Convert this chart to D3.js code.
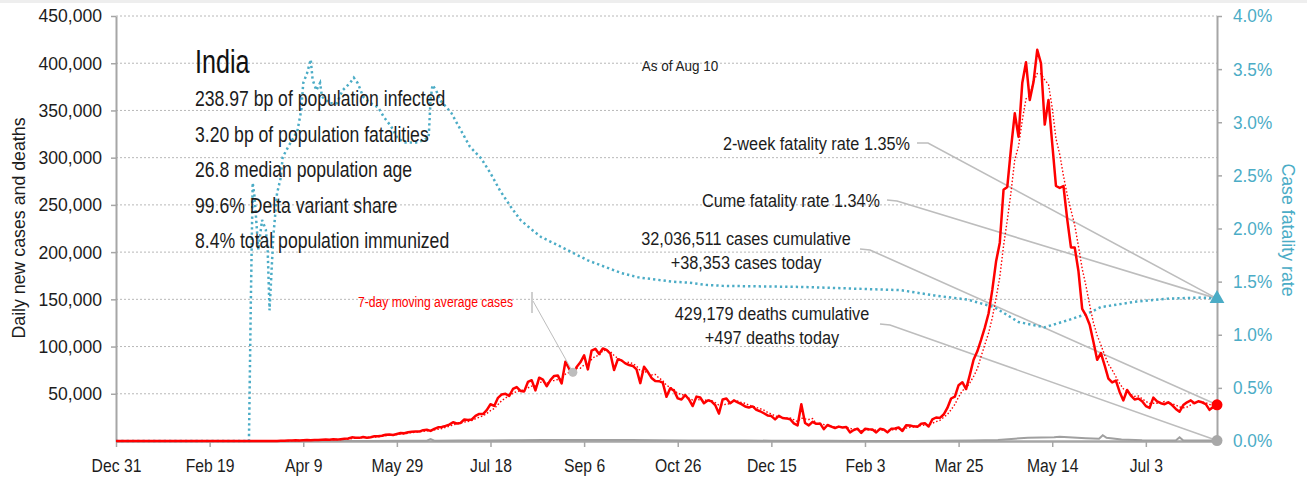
<!DOCTYPE html>
<html>
<head>
<meta charset="utf-8">
<script src="https://cdn.jsdelivr.net/npm/d3@7"></script>
<style>
  body { margin: 0; background: #fff; }
  svg { display: block; font-family: "Liberation Sans", Arial, sans-serif; }
</style>
</head>
<body>
<svg id="chart" width="1307" height="482"></svg>
<script>
// ---------- data ----------
const xStart = "2019-12-31";
const xEnd = "2021-08-10";
const xTickDates = ["2019-12-31", "2020-02-19", "2020-04-09", "2020-05-29", "2020-07-18", "2020-09-06",
                    "2020-10-26", "2020-12-15", "2021-02-03", "2021-03-25", "2021-05-14", "2021-07-03"];
const caseTicks = [50000, 100000, 150000, 200000, 250000, 300000, 350000, 400000, 450000];
const cfrTicks = [0, 0.005, 0.01, 0.015, 0.02, 0.025, 0.03, 0.035, 0.04];

// daily new cases, one value every second day from caseStart
const caseStart = "2019-12-31";
const caseStepDays = 2;
const dailyCases = [
  0, 0, 0, 0, 0, 0, 0, 0, 0, 0, 0, 0, 0, 0, 0, 1, 0, 1, 0, 0, 0, 0, 0, 0, 0, 0, 0, 0, 0, 0, 0,
  1, 22, 2, 5, 15, 13, 20, 27, 28, 58, 69, 104, 88, 184, 227, 601, 601, 693, 508, 809,
  1035, 796, 1076, 1007, 1334, 1540, 1409, 1835, 1463, 1897, 2293, 2644, 3900, 3561, 3320, 4213,
  3525, 3970, 4987, 4970, 5609, 6654, 6977, 6387, 7466, 8380,
  8171, 9304, 9887, 9983, 9985, 11458, 11929, 10667, 12881, 14516, 14821, 15968, 17296, 19906, 18522,
  19148, 22771, 22252, 22752, 26506, 28637, 28498, 32695, 38902, 37148, 45720, 49310, 49931, 47704, 55079,
  57118, 52972, 52509, 62538, 64399, 53601, 66999, 65002, 57981, 64531, 68898, 69239, 60975, 84000, 76472,
  69921, 78357, 83341, 90632, 75809, 95735, 97570, 92071, 97894, 96424, 92605, 75083, 86508, 85362, 82170, 80472,
  79476, 75829, 61267, 78524, 73272, 66732, 63509, 63371, 61871, 46790, 55839, 53370, 45149, 43893, 48648,
  44000, 37000, 47000, 46000, 40000, 43000, 42000, 38000, 29000, 44000, 45000, 40000, 43000, 41000, 39000,
  36604, 35551, 36652, 32981, 31521, 29398, 27071, 26382, 22890, 26624, 24337, 23950, 23067, 18732, 16432, 39000,
  19079, 16504, 20346, 18139, 18645, 12584, 16946, 15158, 13788, 15223, 14256, 14849, 9102, 11666, 13083,
  8635, 12899, 12408, 12059, 9110, 12923, 12194, 9121, 12881, 13193, 14264, 10584, 16738, 16488,
  15510, 14989, 18327, 18711, 15388, 22854, 24882, 24492, 28000, 35000, 45000, 47000, 59118, 62258, 55000, 70000,
  86000, 95000, 107000, 120000, 135000, 160000, 190000, 210000, 266000, 269000,
  310000, 347000, 322000, 379000, 401000, 361000, 380000, 414188, 400000, 335000,
  361000, 315000, 270000, 268000, 270000, 235000, 205000, 205000, 180000, 140000,
  133000, 123000, 105000, 86000, 93000, 80000, 66000, 62000, 64000, 52000,
  43000, 54000, 48000, 44000, 45000, 42000, 37000, 35000, 46000, 42000,
  40000, 39000, 41000, 38000, 34000, 31000, 38000, 41000, 43000, 40000,
  42000, 41000, 39000, 33000, 36000, 38353
];

// daily deaths
const deathDates = ["2019-12-31", "2020-03-12", "2020-03-31", "2020-04-15", "2020-05-01", "2020-05-15", "2020-06-01",
  "2020-06-14", "2020-06-16", "2020-06-18", "2020-07-01", "2020-07-15", "2020-08-01", "2020-08-15", "2020-09-01",
  "2020-09-15", "2020-10-01", "2020-10-15", "2020-11-01", "2020-11-15", "2020-12-01", "2020-12-15", "2021-01-01",
  "2021-01-15", "2021-02-01", "2021-03-01", "2021-03-15", "2021-04-01", "2021-04-15", "2021-05-01", "2021-05-15",
  "2021-05-18", "2021-06-01", "2021-06-08", "2021-06-10", "2021-06-12", "2021-06-20", "2021-07-01", "2021-07-19",
  "2021-07-21", "2021-07-23", "2021-08-01", "2021-08-10"];
const dailyDeaths = [0, 1, 20, 40, 75, 110, 220,
  320, 2003, 340, 450, 580, 780, 950, 1050,
  1150, 1100, 850, 550, 480, 480, 360, 250,
  180, 110, 110, 150, 400, 1100, 3500, 4000,
  4500, 3000, 2400, 6148, 3400, 1600, 900, 600,
  3998, 550, 500, 497];

// case fatality rate, percent
const cfrDates = ["2019-12-31", "2020-03-11", "2020-03-12", "2020-03-13", "2020-03-14", "2020-03-16", "2020-03-18",
  "2020-03-20", "2020-03-21", "2020-03-22", "2020-03-24", "2020-03-26", "2020-03-28", "2020-03-29", "2020-04-01",
  "2020-04-04", "2020-04-06", "2020-04-08", "2020-04-09", "2020-04-11", "2020-04-13", "2020-04-14", "2020-04-16",
  "2020-04-18", "2020-04-19", "2020-04-23", "2020-04-27", "2020-04-30", "2020-05-04", "2020-05-06", "2020-05-08",
  "2020-05-09", "2020-05-11", "2020-05-15", "2020-05-19", "2020-05-22", "2020-05-26", "2020-05-29", "2020-06-02",
  "2020-06-05", "2020-06-09", "2020-06-12", "2020-06-15", "2020-06-16", "2020-06-17", "2020-06-19", "2020-06-21",
  "2020-06-27", "2020-07-02", "2020-07-07", "2020-07-13", "2020-07-18", "2020-07-23", "2020-07-29", "2020-08-03",
  "2020-08-09", "2020-08-14", "2020-08-21", "2020-08-30", "2020-09-08", "2020-09-17", "2020-09-26", "2020-10-05",
  "2020-10-14", "2020-10-23", "2020-11-01", "2020-11-10", "2020-11-19", "2020-12-31", "2021-02-22", "2021-03-12",
  "2021-03-30", "2021-04-13", "2021-04-26", "2021-05-10", "2021-05-23", "2021-06-02", "2021-06-09", "2021-06-27",
  "2021-07-15", "2021-08-02", "2021-08-10"];
const cfrValues = [0, 0, 1.3, 2.43, 2.3, 1.8, 2.08,
  1.99, 1.8, 1.23, 1.92, 2.33, 2.48, 2.67, 2.77,
  2.86, 2.93, 3.12, 3.37, 3.46, 3.59, 3.4, 3.3,
  3.37, 3.24, 3.18, 3.18, 3.3, 3.37, 3.42, 3.37,
  3.33, 3.24, 3.18, 3.14, 3.05, 2.96, 2.86, 2.81,
  2.81, 2.81, 2.83, 2.86, 3.21, 3.35, 3.3, 3.21,
  3.09, 2.93, 2.77, 2.66, 2.52, 2.36, 2.2, 2.08,
  1.99, 1.92, 1.86, 1.78, 1.7, 1.64, 1.58, 1.54,
  1.52, 1.5, 1.49, 1.47, 1.46, 1.45, 1.42, 1.37,
  1.33, 1.26, 1.12, 1.07, 1.14, 1.2, 1.26, 1.31,
  1.34, 1.35, 1.34];

const placeName = "India";
const asOfLabel = "As of Aug 10";
const statLines = ["238.97 bp of population infected", "3.20 bp of population fatalities",
  "26.8 median population age", "99.6% Delta variant share", "8.4% total population immunized"];
const fatalityLabels = ["2-week fatality rate 1.35%", "Cume fatality rate 1.34%"];
const caseLabels = ["32,036,511 cases cumulative", "+38,353 cases today"];
const deathLabels = ["429,179 deaths cumulative", "+497 deaths today"];
const maLabel = "7-day moving average cases";
const maPointDate = "2020-08-31";
const leftTitle = "Daily new cases and deaths";
const rightTitle = "Case fatality rate";

// ---------- setup ----------
const RED = "#ff0000", BLUE = "#4bacc6", GRAY = "#a6a6a6", INK = "#1c1c1c";
const parse = d3.utcParse("%Y-%m-%d");
const svg = d3.select("#chart");
const box = { left: 116, right: 1217, top: 16, bottom: 441 };

// narrow the lettering horizontally around each text's own anchor
function squeeze(sel, k) {
  sel.each(function () {
    const t = d3.select(this);
    const ax = +t.attr("x") || 0;
    const base = t.attr("transform") || "";
    t.attr("transform", `${base} translate(${ax},0) scale(${k},1) translate(${-ax},0)`);
  });
}

const x = d3.scaleUtc().domain([parse(xStart), parse(xEnd)]).range([box.left, box.right]);
const y = d3.scaleLinear().domain([0, 450000]).range([box.bottom, box.top]);
const y2 = d3.scaleLinear().domain([0, 0.04]).range([box.bottom, box.top]);

const cases = dailyCases.map((v, i) => ({ date: d3.utcDay.offset(parse(caseStart), i * caseStepDays), v }));
// trailing 7-day window (4 samples at 2-day spacing)
const movingAvg = cases.map((d, i) => ({ date: d.date, v: d3.mean(dailyCases.slice(Math.max(0, i - 3), i + 1)) }));
const deaths = deathDates.map((d, i) => ({ date: parse(d), v: dailyDeaths[i] }));
const cfr = cfrDates.map((d, i) => ({ date: parse(d), v: cfrValues[i] / 100 }));

svg.append("rect").attr("x", 0).attr("y", 0).attr("width", 1307).attr("height", 3).attr("fill", "#eeeeee");

// gridlines
svg.append("g").selectAll("line").data(caseTicks).join("line")
  .attr("x1", box.left).attr("x2", box.right)
  .attr("y1", d => y(d)).attr("y2", d => y(d))
  .attr("stroke", "#b8b8b8").attr("stroke-width", 1).attr("stroke-dasharray", "2,2");

// axes
const styleAxis = (g, size) => {
  g.selectAll(".domain").attr("stroke", GRAY).attr("stroke-width", 2);
  g.selectAll(".tick line").attr("stroke", GRAY).attr("stroke-width", 1.5);
  g.selectAll("text").attr("font-size", size).attr("font-family", null);
};

svg.append("g").attr("transform", `translate(${box.left},0)`)
  .call(d3.axisLeft(y).tickValues(caseTicks).tickFormat(d3.format(",")).tickSize(5).tickSizeOuter(0).tickPadding(9))
  .call(g => styleAxis(g, 18.5))
  .call(g => g.selectAll("text").attr("fill", INK).call(squeeze, 0.95));

svg.append("g").attr("transform", `translate(${box.right},0)`)
  .call(d3.axisRight(y2).tickValues(cfrTicks).tickFormat(d3.format(".1%")).tickSize(5).tickSizeOuter(0).tickPadding(11))
  .call(g => styleAxis(g, 18.5))
  .call(g => g.selectAll("text").attr("fill", BLUE).call(squeeze, 0.93));

svg.append("g").attr("transform", `translate(0,${box.bottom})`)
  .call(d3.axisBottom(x).tickValues(xTickDates.map(parse)).tickFormat(d3.utcFormat("%b %-d")).tickSize(6).tickSizeOuter(0).tickPadding(12))
  .call(g => styleAxis(g, 18.5))
  .call(g => g.select(".domain").attr("stroke-width", 2.5))
  .call(g => g.selectAll("text").attr("fill", INK).call(squeeze, 0.85));

svg.append("text").attr("transform", "translate(25,228) rotate(-90)")
  .attr("text-anchor", "middle").attr("font-size", 18.5).attr("fill", INK).text(leftTitle)
  .call(squeeze, 0.96);
svg.append("text").attr("transform", "translate(1282,230) rotate(90)")
  .attr("text-anchor", "middle").attr("font-size", 18.5).attr("fill", BLUE).text(rightTitle)
  .call(squeeze, 0.96);

// ---------- series ----------
const last = a => a[a.length - 1];
const endCase = last(cases), endCfr = last(cfr), endDeath = last(deaths);

// callout connectors
const callouts = [
  { from: [917, 143], elbow: [928, 143], to: [x(endCfr.date), y2(endCfr.v)] },
  { from: [887, 200], elbow: [897, 201], to: [x(endCfr.date), y2(endCfr.v)] },
  { from: [860, 249], elbow: [870, 250], to: [x(endCase.date), y(endCase.v)] },
  { from: [880, 324], elbow: [890, 325], to: [x(endDeath.date), y(endDeath.v)] }
];
svg.append("g").selectAll("polyline").data(callouts).join("polyline")
  .attr("points", d => [d.from, d.elbow, d.to].map(p => p.join(",")).join(" "))
  .attr("fill", "none").attr("stroke", "#bdbdbd").attr("stroke-width", 1.6);

const lineOf = (sy) => d3.line().x(d => x(d.date)).y(d => sy(d.v));

svg.append("path").datum(cfr).attr("d", lineOf(y2))
  .attr("fill", "none").attr("stroke", BLUE).attr("stroke-width", 2.5).attr("stroke-dasharray", "2.3,3");

svg.append("path").datum(deaths).attr("d", lineOf(y))
  .attr("fill", "none").attr("stroke", "#a0a0a0").attr("stroke-width", 2);

svg.append("path").datum(movingAvg).attr("d", lineOf(y))
  .attr("fill", "none").attr("stroke", RED).attr("stroke-width", 1.4).attr("stroke-dasharray", "1.5,2");

svg.append("path").datum(cases).attr("d", lineOf(y))
  .attr("fill", "none").attr("stroke", RED).attr("stroke-width", 2.5).attr("stroke-linejoin", "round");

// moving-average pointer
const maPoint = movingAvg.find(d => +d.date === +parse(maPointDate));
svg.append("line").attr("x1", 532).attr("x2", 532).attr("y1", 292).attr("y2", 313)
  .attr("stroke", "#cfcfcf").attr("stroke-width", 2);
svg.append("line").attr("x1", 533).attr("y1", 301).attr("x2", x(maPoint.date)).attr("y2", y(maPoint.v))
  .attr("stroke", "#bdbdbd").attr("stroke-width", 1);
svg.append("circle").attr("cx", x(maPoint.date)).attr("cy", y(maPoint.v)).attr("r", 4.5).attr("fill", "#bdbdbd");
svg.append("text").attr("x", 513).attr("y", 307).attr("text-anchor", "end")
  .attr("font-size", 15).attr("fill", RED).text(maLabel).call(squeeze, 0.81);

// end markers
svg.append("path").attr("d", d3.symbol(d3.symbolTriangle, 95)())
  .attr("transform", `translate(${x(endCfr.date)},${y2(endCfr.v)})`).attr("fill", BLUE);
svg.append("circle").attr("cx", x(endCase.date)).attr("cy", y(endCase.v)).attr("r", 5.5).attr("fill", RED);
svg.append("circle").attr("cx", x(endDeath.date)).attr("cy", y(endDeath.v)).attr("r", 5.5).attr("fill", "#a8a8a8");

// ---------- text ----------
svg.append("text").attr("x", 195).attr("y", 73).attr("font-size", 34).attr("fill", "#111").text(placeName)
  .call(squeeze, 0.74);
svg.append("g").selectAll("text").data(statLines).join("text")
  .attr("x", 195).attr("y", (d, i) => 106.5 + i * 35.5)
  .attr("font-size", 22).attr("fill", INK).text(d => d)
  .call(squeeze, 0.8);

svg.append("text").attr("x", 680).attr("y", 71).attr("text-anchor", "middle")
  .attr("font-size", 15).attr("fill", INK).text(asOfLabel).call(squeeze, 0.9);

svg.append("text").attr("x", 910).attr("y", 150).attr("text-anchor", "end")
  .attr("font-size", 18.5).attr("fill", INK).text(fatalityLabels[0]).call(squeeze, 0.88);
svg.append("text").attr("x", 880).attr("y", 207).attr("text-anchor", "end")
  .attr("font-size", 18.5).attr("fill", INK).text(fatalityLabels[1]).call(squeeze, 0.88);
svg.append("g").selectAll("text").data(caseLabels).join("text")
  .attr("x", 746).attr("y", (d, i) => 245 + i * 24.5).attr("text-anchor", "middle")
  .attr("font-size", 18.5).attr("fill", INK).text(d => d).call(squeeze, 0.88);
svg.append("g").selectAll("text").data(deathLabels).join("text")
  .attr("x", 772).attr("y", (d, i) => 320 + i * 24).attr("text-anchor", "middle")
  .attr("font-size", 18.5).attr("fill", INK).text(d => d).call(squeeze, 0.88);
</script>
</body>
</html>
